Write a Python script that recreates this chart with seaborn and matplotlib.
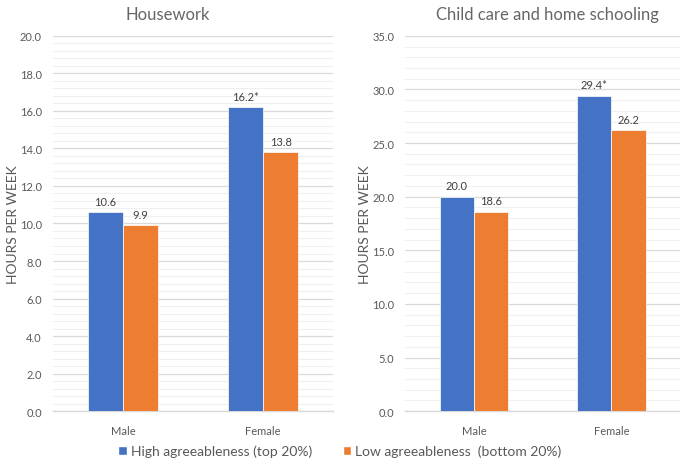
import matplotlib
matplotlib.use("Agg")
import matplotlib.pyplot as plt
from matplotlib.patches import Patch
from matplotlib.ticker import MultipleLocator, FormatStrFormatter
import seaborn as sns
import pandas as pd

categories = ["Male", "Female"]
series_names = ["High agreeableness (top 20%)", "Low agreeableness  (bottom 20%)"]
housework_high = [10.6, 16.2]
housework_low = [9.9, 13.8]
childcare_high = [20.0, 29.4]
childcare_low = [18.6, 26.2]
high_star = [False, True]
titles = ["Housework", "Child care and home schooling"]
y_max = [20, 35]
y_major = [2, 5]
y_minor = [0.4, 1.0]

colors = ["#4472C4", "#ED7D31"]
text_col = "#595959"

sns.set_theme(style="white")
plt.rcParams["font.family"] = ["Lato", "DejaVu Sans"]

fig = plt.figure(figsize=(6.8, 4.6), dpi=100)
ax1 = fig.add_axes([0.078, 0.104, 0.412, 0.816])
ax2 = fig.add_axes([0.596, 0.104, 0.404, 0.816])

panels = [(ax1, housework_high, housework_low), (ax2, childcare_high, childcare_low)]
label_x = [-0.121, -0.124]
title_x = [0.41, 0.516]
for i, (ax, hi, lo) in enumerate(panels):
    df = pd.DataFrame({
        "sex": categories * 2,
        "group": [series_names[0]] * 2 + [series_names[1]] * 2,
        "hours": list(hi) + list(lo),
    })
    sns.barplot(data=df, x="sex", y="hours", hue="group", order=categories,
                hue_order=series_names, palette=colors, width=0.5,
                saturation=1, ax=ax, legend=False, zorder=3)
    ax.set_ylim(0, y_max[i])
    ax.set_xlim(-0.5, 1.5)
    ax.yaxis.set_major_locator(MultipleLocator(y_major[i]))
    ax.yaxis.set_minor_locator(MultipleLocator(y_minor[i]))
    ax.yaxis.set_major_formatter(FormatStrFormatter("%.1f"))
    ax.grid(axis="y", which="major", color="#D9D9D9", linewidth=0.9, zorder=0)
    ax.grid(axis="y", which="minor", color="#EFEFEF", linewidth=0.8, zorder=0)
    ax.set_axisbelow(True)
    for s in ["top", "right", "left"]:
        ax.spines[s].set_visible(False)
    ax.spines["bottom"].set_color("#D9D9D9")
    ax.spines["bottom"].set_linewidth(1.0)
    ax.tick_params(axis="both", which="both", length=0, labelsize=8,
                   labelcolor=text_col)
    ax.tick_params(axis="x", pad=10)
    ax.tick_params(axis="y", pad=8)
    ax.set_xlabel("")
    ax.set_ylabel("HOURS PER WEEK", fontsize=10, color=text_col)
    ax.yaxis.set_label_coords(label_x[i], 0.5)
    ax.set_title(titles[i], fontsize=12, color="#666666", pad=12, x=title_x[i])
    containers = ax.containers
    hi_labels = [f"{v:.1f}" + ("*" if st else "") for v, st in zip(hi, high_star)]
    lo_labels = [f"{v:.1f}" for v in lo]
    ax.bar_label(containers[0], labels=hi_labels, padding=4, fontsize=8, color="#404040")
    ax.bar_label(containers[1], labels=lo_labels, padding=4, fontsize=8, color="#404040")
    for c in containers:
        for p in c:
            p.set_edgecolor("white")
            p.set_linewidth(0.5)

handles = [Patch(facecolor=colors[0]), Patch(facecolor=colors[1])]
fig.legend(handles, series_names, loc="center", bbox_to_anchor=(0.5, 0.017),
           ncol=2, frameon=False, fontsize=10, handlelength=0.6, handleheight=0.6,
           handletextpad=0.3, columnspacing=2.2, labelcolor=text_col,
           borderaxespad=0, borderpad=0)

fig.savefig("out.png", dpi=100)
